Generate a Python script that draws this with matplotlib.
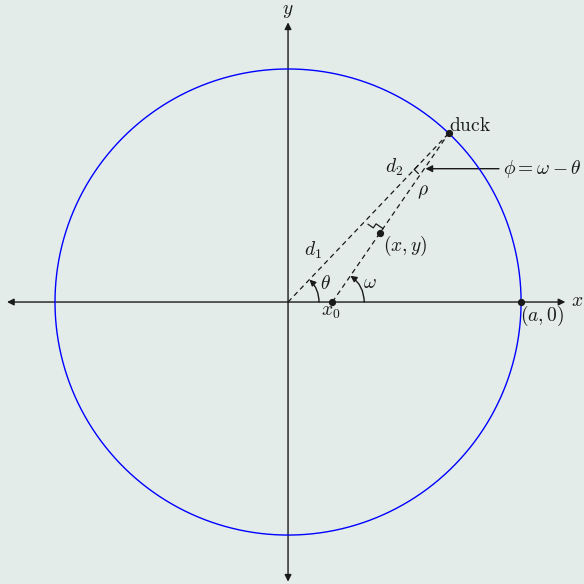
import numpy as np
import matplotlib.pyplot as plt
from matplotlib.patches import FancyArrowPatch

plt.rcParams['mathtext.fontset'] = 'cm'
plt.rcParams['font.family'] = 'serif'
plt.rcParams['font.serif'] = ['DejaVu Serif']

# geometry (a = 1)
a = 1.0
theta_deg = 46.4
x0 = 0.19
t_xy = 0.41          # position of (x, y) along the x0 -> duck line
t_phi = 0.79         # where the phi arrow hits the x0 -> duck line
t_foot = 0.785       # right angle mark on the origin -> duck line

bg = '#e4ecea'
ink = '#1a1a1a'

fig = plt.figure(figsize=(5.84, 5.84), dpi=100, facecolor=bg)
ax = fig.add_axes([0, 0, 1, 1])
ax.set_facecolor(bg)
ax.set_xlim(-1.236, 1.270)
ax.set_ylim(-1.210, 1.296)
ax.set_aspect('equal')
ax.axis('off')

th = np.radians(theta_deg)
duck = np.array([a * np.cos(th), a * np.sin(th)])
p0 = np.array([x0, 0.0])
pxy = p0 + t_xy * (duck - p0)
pphi = p0 + t_phi * (duck - p0)

# circle
s = np.linspace(0, 2 * np.pi, 400)
ax.plot(a * np.cos(s), a * np.sin(s), color='blue', lw=1.0)

# axes with arrows at both ends
ax.add_patch(FancyArrowPatch((-1.206, 0), (1.19, 0), arrowstyle='<|-|>',
                             mutation_scale=10, color=ink, lw=1.0, shrinkA=0, shrinkB=0))
ax.add_patch(FancyArrowPatch((0, -1.2), (0, 1.2), arrowstyle='<|-|>',
                             mutation_scale=10, color=ink, lw=1.0, shrinkA=0, shrinkB=0))
ax.text(1.24, 0.005, r'$x$', fontsize=14, color=ink, va='center', ha='center')
ax.text(0, 1.247, r'$y$', fontsize=14, color=ink, va='center', ha='center')

# dashed lines
ax.plot([0, duck[0]], [0, duck[1]], color=ink, lw=0.9, dashes=(4, 3))
ax.plot([p0[0], duck[0]], [p0[1], duck[1]], color=ink, lw=0.9, dashes=(4, 3))

# points
for p in [duck, p0, pxy, (a, 0)]:
    ax.plot(p[0], p[1], 'o', color=ink, ms=4.2)

# angle arcs with arrowheads
def angle_arc(c, r, ang):
    start = (c[0] + r, c[1])
    end = (c[0] + r * np.cos(ang), c[1] + r * np.sin(ang))
    half = ang / 2
    rad = 2 * (1 - np.cos(half)) / (2 * np.sin(half))
    ax.add_patch(FancyArrowPatch(start, end, connectionstyle=f'arc3,rad={rad:.3f}',
                                 arrowstyle='-|>', mutation_scale=9, color=ink, lw=1.0,
                                 shrinkA=0, shrinkB=0))

omega = np.arctan2(duck[1] - p0[1], duck[0] - p0[0])
angle_arc((0, 0), 0.133, th)
angle_arc(p0, 0.137, omega)

# right angle mark next to (x, y)
u1 = (duck - p0) / np.linalg.norm(duck - p0)
n1 = np.array([-u1[1], u1[0]])
p = pxy + 0.022 * u1
m1 = np.array([p, p + 0.036 * n1, p + 0.036 * n1 - 0.021 * u1,
               p + 0.063 * n1 - 0.021 * u1])
ax.plot(m1[:, 0], m1[:, 1], color=ink, lw=0.9)

# right angle mark on the origin -> duck line
u2 = duck / np.linalg.norm(duck)
n2 = np.array([u2[1], -u2[0]])
v = u2 * t_foot
m2 = np.array([v + 0.024 * u2, v, v + 0.024 * n2])
ax.plot(m2[:, 0], m2[:, 1], color=ink, lw=0.9)

# phi arrow
ax.add_patch(FancyArrowPatch((0.905, pphi[1]), (pphi[0] + 0.005, pphi[1]), arrowstyle='-|>',
                             mutation_scale=10, color=ink, lw=1.0, shrinkA=0, shrinkB=0))

# labels
fs = 14
ax.text(0.78, 0.755, r'$\mathrm{duck}$', fontsize=fs, color=ink, va='center', ha='center')
ax.text(1.09, 0.571, r'$\phi = \omega - \theta$', fontsize=fs, color=ink, va='center', ha='center')
ax.text(0.455, 0.579, r'$d_2$', fontsize=fs, color=ink, va='center', ha='center')
ax.text(0.58, 0.472, r'$\rho$', fontsize=fs, color=ink, va='center', ha='center')
ax.text(0.107, 0.223, r'$d_1$', fontsize=fs, color=ink, va='center', ha='center')
ax.text(0.502, 0.24, r'$(x, y)$', fontsize=fs, color=ink, va='center', ha='center')
ax.text(0.159, 0.077, r'$\theta$', fontsize=fs, color=ink, va='center', ha='center')
ax.text(0.352, 0.082, r'$\omega$', fontsize=fs, color=ink, va='center', ha='center')
ax.text(0.185, -0.043, r'$x_0$', fontsize=fs, color=ink, va='center', ha='center')
ax.text(1.09, -0.06, r'$(a, 0)$', fontsize=fs, color=ink, va='center', ha='center')

fig.savefig('out.png', dpi=100, facecolor=bg)
